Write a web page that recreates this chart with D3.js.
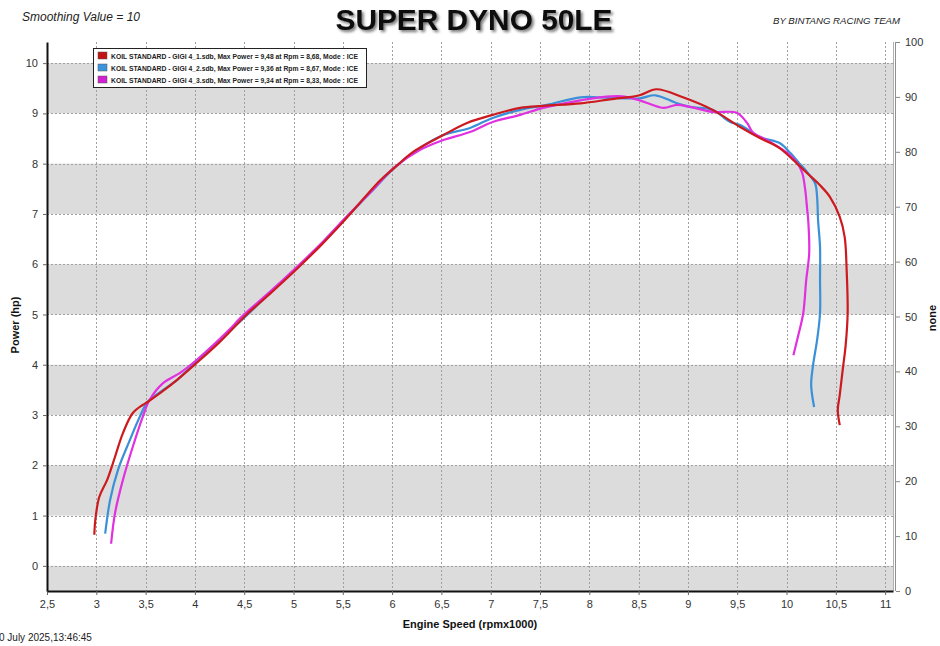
<!DOCTYPE html>
<html><head><meta charset="utf-8">
<script src="https://cdn.jsdelivr.net/npm/d3@7/dist/d3.min.js"></script>
<style>body{margin:0;background:#fff}svg{display:block}text{font-family:"Liberation Sans",Arial,sans-serif}</style>
</head><body><svg id="c" width="940" height="646"></svg>
<script>
// ---- data ----
const xTicks = [2.5,3,3.5,4,4.5,5,5.5,6,6.5,7,7.5,8,8.5,9,9.5,10,10.5,11];
const xTickLabels = ["2,5","3","3,5","4","4,5","5","5,5","6","6,5","7","7,5","8","8,5","9","9,5","10","10,5","11"];
const yTicks = [0,1,2,3,4,5,6,7,8,9,10];
const y2Ticks = [0,10,20,30,40,50,60,70,80,90,100];
const seriesNames = [
  "KOIL STANDARD - GIGI 4_1.sdb, Max Power = 9,48 at Rpm = 8,68, Mode : ICE",
  "KOIL STANDARD - GIGI 4_2.sdb, Max Power = 9,36 at Rpm = 8,67, Mode : ICE",
  "KOIL STANDARD - GIGI 4_3.sdb, Max Power = 9,34 at Rpm = 8,33, Mode : ICE"
];
const rpm1 = [2.98,2.99,3.03,3.11,3.19,3.27,3.37,3.47,3.52,3.65,3.82,4.02,4.25,4.52,4.76,5.02,5.27,5.52,5.88,6.02,6.21,6.52,6.76,7.02,7.30,7.53,7.91,8.21,8.51,8.68,8.95,9.25,9.53,9.73,9.93,10.07,10.21,10.34,10.44,10.54,10.59,10.61,10.62,10.60,10.57,10.54,10.52,10.54];
const hp1  = [0.62,0.91,1.37,1.71,2.17,2.64,3.04,3.20,3.26,3.44,3.70,4.04,4.45,4.99,5.41,5.88,6.36,6.88,7.67,7.91,8.23,8.57,8.81,8.97,9.11,9.15,9.20,9.28,9.36,9.48,9.32,9.07,8.73,8.51,8.31,8.07,7.81,7.57,7.34,6.94,6.54,5.88,5.03,4.39,3.90,3.40,3.10,2.80];
const rpm2 = [3.09,3.14,3.22,3.34,3.44,3.52,3.65,3.82,4.02,4.25,4.52,4.76,5.02,5.27,5.52,5.78,6.02,6.28,6.52,6.79,7.02,7.30,7.57,7.91,8.11,8.51,8.67,8.89,9.02,9.25,9.43,9.53,9.73,9.93,10.04,10.12,10.21,10.29,10.31,10.32,10.34,10.34,10.34,10.31,10.27,10.25,10.28];
const hp2  = [0.64,1.31,1.91,2.50,2.96,3.26,3.46,3.70,4.08,4.49,4.97,5.43,5.90,6.38,6.90,7.42,7.91,8.31,8.57,8.71,8.91,9.07,9.17,9.32,9.32,9.30,9.36,9.20,9.13,9.07,8.83,8.77,8.53,8.41,8.21,8.03,7.83,7.61,7.34,6.88,6.34,5.69,5.03,4.49,4.00,3.60,3.16];
const rpm3 = [3.15,3.19,3.27,3.37,3.47,3.54,3.68,3.85,4.02,4.36,4.46,4.76,5.02,5.27,5.52,5.78,6.02,6.28,6.52,6.79,7.02,7.30,7.53,7.91,8.11,8.33,8.51,8.75,8.89,9.02,9.25,9.50,9.60,9.66,9.80,10.01,10.11,10.16,10.19,10.21,10.22,10.23,10.20,10.17,10.12,10.07];
const hp3  = [0.44,1.05,1.71,2.37,2.96,3.30,3.64,3.84,4.10,4.72,4.93,5.45,5.92,6.39,6.91,7.43,7.92,8.27,8.47,8.63,8.83,8.97,9.11,9.26,9.32,9.34,9.26,9.11,9.17,9.13,9.03,9.01,8.81,8.62,8.47,8.21,8.01,7.81,7.48,7.08,6.88,6.22,5.69,5.03,4.59,4.19];
const lineColors = ["#cc1a1f","#3b90d8","#e030e0"];
const swatchColors = ["#c41212","#3a95dc","#d020d0"];

// ---- chart ----
const svg = d3.select("#c");
const L = 47, R = 893, T = 42, B = 591;
const x = d3.scaleLinear().domain([2.5, 11.08]).range([L, R]);
const y = d3.scaleLinear().domain([-0.5, 10.42]).range([B, T]);
const y2 = d3.scaleLinear().domain([0, 100]).range([B, T]);

const defs = svg.append("defs");
defs.append("filter").attr("id","sh").attr("x","-10%").attr("y","-30%").attr("width","120%").attr("height","160%")
  .html('<feGaussianBlur in="SourceAlpha" stdDeviation="1.6"/><feOffset dx="2" dy="2" result="b"/><feComponentTransfer><feFuncA type="linear" slope="0.55"/></feComponentTransfer><feMerge><feMergeNode/><feMergeNode in="SourceGraphic"/></feMerge>');
defs.append("clipPath").attr("id","pc").append("rect").attr("x",L).attr("y",T).attr("width",R-L).attr("height",B-T);

// bands
const bands = [[-0.5,0],[1,2],[3,4],[5,6],[7,8],[9,10]];
svg.append("rect").attr("x",L).attr("y",T).attr("width",R-L).attr("height",B-T).attr("fill","#fff");
svg.append("g").selectAll("rect").data(bands).join("rect")
  .attr("x",L).attr("width",R-L)
  .attr("y",d=>y(d[1])).attr("height",d=>y(d[0])-y(d[1]))
  .attr("fill","#dcdcdc");

// grid
const g = svg.append("g").attr("stroke","#a0a0a0").attr("stroke-width",1).attr("stroke-dasharray","2,2");
g.selectAll("line.v").data(xTicks.slice(1)).join("line")
  .attr("x1",d=>Math.round(x(d))+0.5).attr("x2",d=>Math.round(x(d))+0.5).attr("y1",T).attr("y2",B);
g.selectAll("line.h").data(yTicks).join("line")
  .attr("y1",d=>Math.round(y(d))+0.5).attr("y2",d=>Math.round(y(d))+0.5).attr("x1",L).attr("x2",R);

// frame
svg.append("line").attr("x1",R+0.5).attr("x2",R+0.5).attr("y1",T).attr("y2",B).attr("stroke","#b0b0b0");
svg.append("line").attr("x1",R+2.5).attr("x2",R+2.5).attr("y1",T).attr("y2",B).attr("stroke","#909090");

// axes
const xa = svg.append("g").attr("transform",`translate(0,${B})`)
  .call(d3.axisBottom(x).tickValues(xTicks).tickFormat((d,i)=>xTickLabels[i]).tickSize(4).tickSizeOuter(0));
xa.select(".domain").attr("stroke","#111").attr("stroke-width",2);
xa.selectAll(".tick line").attr("stroke","#666");
xa.selectAll("text").attr("font-size",11).attr("fill","#333").attr("dy","0.9em");

const ya = svg.append("g").attr("transform",`translate(${L},0)`)
  .call(d3.axisLeft(y).tickValues(yTicks).tickSize(4).tickSizeOuter(0));
ya.select(".domain").attr("stroke","#111").attr("stroke-width",2);
ya.selectAll(".tick line").attr("stroke","#666");
ya.selectAll("text").attr("font-size",11).attr("fill","#333").attr("dx","-2");

const ya2 = svg.append("g").attr("transform",`translate(${R+3},0)`)
  .call(d3.axisRight(y2).tickValues(y2Ticks).tickSize(4).tickSizeOuter(0));
ya2.select(".domain").remove();
ya2.selectAll(".tick line").attr("stroke","#888");
ya2.selectAll("text").attr("font-size",11).attr("fill","#333").attr("dx","2");

// lines
const series = [
  {rpm:rpm2,hp:hp2,c:lineColors[1]},
  {rpm:rpm3,hp:hp3,c:lineColors[2]},
  {rpm:rpm1,hp:hp1,c:lineColors[0]}
];
const line = d3.line().x(d=>x(d[0])).y(d=>y(d[1])).curve(d3.curveCatmullRom.alpha(0.5));
svg.append("g").attr("clip-path","url(#pc)").selectAll("path").data(series).join("path")
  .attr("d",s=>line(s.rpm.map((r,i)=>[r,s.hp[i]])))
  .attr("fill","none").attr("stroke",s=>s.c).attr("stroke-width",2.2).attr("stroke-linejoin","round");

// legend
const lg = svg.append("g");
lg.append("rect").attr("x",93.5).attr("y",48.5).attr("width",273).attr("height",39).attr("fill","#fff").attr("stroke","#222");
seriesNames.forEach((n,i)=>{
  lg.append("rect").attr("x",98).attr("y",52+i*12).attr("width",9).attr("height",7).attr("fill",swatchColors[i]).attr("stroke","#555").attr("stroke-width",0.5);
  lg.append("text").attr("x",111).attr("y",58.5+i*12).attr("font-size",6.6).attr("font-weight","bold").attr("fill","#222")
    .attr("textLength",247).attr("lengthAdjust","spacingAndGlyphs").text(n);
});

// titles
svg.append("text").attr("x",474).attr("y",30).attr("text-anchor","middle").attr("font-size",30).attr("font-weight","bold")
  .attr("textLength",277).attr("lengthAdjust","spacingAndGlyphs").attr("fill","#111").attr("filter","url(#sh)").text("SUPER DYNO 50LE");
svg.append("text").attr("x",22).attr("y",21).attr("font-size",12.5).attr("font-style","italic").attr("fill","#222")
  .attr("textLength",118).attr("lengthAdjust","spacingAndGlyphs").text("Smoothing Value = 10");
svg.append("text").attr("x",773).attr("y",24).attr("font-size",9).attr("font-style","italic").attr("fill","#222")
  .attr("textLength",127).attr("lengthAdjust","spacingAndGlyphs").text("BY BINTANG RACING TEAM");
svg.append("text").attr("x",470).attr("y",628).attr("text-anchor","middle").attr("font-size",11).attr("font-weight","bold").attr("fill","#111").text("Engine Speed (rpmx1000)");
svg.append("text").attr("transform","translate(19,325) rotate(-90)").attr("text-anchor","middle").attr("font-size",11).attr("font-weight","bold").attr("fill","#111").text("Power (hp)");
svg.append("text").attr("transform","translate(936,318) rotate(-90)").attr("text-anchor","middle").attr("font-size",11).attr("font-weight","bold").attr("fill","#111").text("none");
svg.append("text").attr("x",-1).attr("y",641).attr("font-size",10).attr("fill","#222").text("0 July 2025,13:46:45");
</script></body></html>
